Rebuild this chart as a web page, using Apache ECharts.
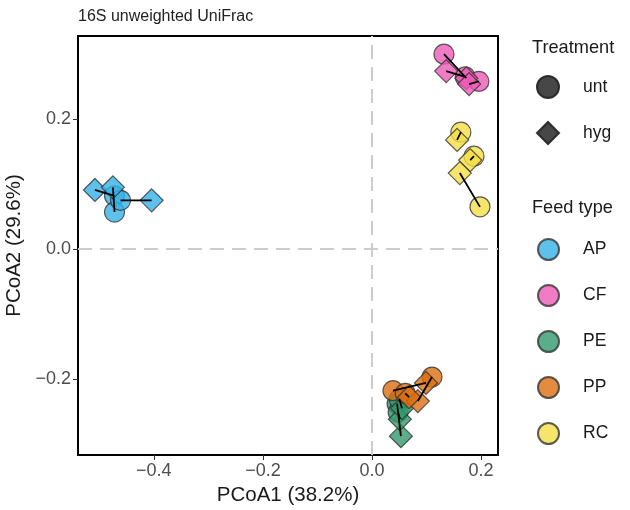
<!DOCTYPE html>
<html><head><meta charset="utf-8">
<script src="https://cdn.jsdelivr.net/npm/echarts@6/dist/echarts.min.js"></script>
<style>html,body{margin:0;padding:0;background:#fff}#c{width:630px;height:510px}</style>
</head><body><div id="c"></div>
<script>
const feedTypes = ['AP','CF','PE','PP','RC'];
const treatments = ['unt','hyg'];
const xTicks = [-0.4,-0.2,0.0,0.2];
const yTicks = [-0.2,0.0,0.2];
// paired samples: unt[i] <-> hyg[i]
const untX = {AP:[-0.472,-0.472,-0.461], CF:[0.132,0.171,0.196], PE:[0.046,0.048,0.050], PP:[0.0385,0.110,0.061], RC:[0.163,0.187,0.198]};
const untY = {AP:[0.082,0.057,0.075],    CF:[0.300,0.265,0.258], PE:[-0.238,-0.251,-0.231], PP:[-0.218,-0.197,-0.222], RC:[0.180,0.143,0.065]};
const hygX = {AP:[-0.508,-0.475,-0.404], CF:[0.173,0.136,0.178], PE:[0.053,0.051,0.055], PP:[0.099,0.084,0.068], RC:[0.156,0.180,0.161]};
const hygY = {AP:[0.091,0.095,0.075],    CF:[0.263,0.274,0.254], PE:[-0.288,-0.262,-0.245], PP:[-0.206,-0.234,-0.228], RC:[0.168,0.137,0.117]};

const colors = {AP:'#36B2E7', CF:'#EF5AB7', PE:'#329A6F', PP:'#DC6E0F', RC:'#F4DF45'};
const FONT = '"Liberation Sans", Arial, sans-serif';
const fmt = v => (Math.abs(v) < 1e-9 ? '0.0' : v.toFixed(1).replace('-', '\u2212'));

const series = [];
// dashed zero lines
series.push({
  type:'scatter', data:[], silent:true, z:1,
  markLine:{silent:true, symbol:'none', label:{show:false},
    lineStyle:{color:'#cccccc', width:2, type:[14,8]},
    data:[{xAxis:0},{yAxis:0}]}
});
feedTypes.forEach(ft => {
  const d = [];
  untX[ft].forEach((x,i) => d.push({value:[x, untY[ft][i]], symbol:'circle', symbolSize:20}));
  hygX[ft].forEach((x,i) => d.push({value:[x, hygY[ft][i]], symbol:'diamond', symbolSize:23}));
  series.push({
    name:ft, type:'scatter', z:3, data:d, symbol:'circle',
    itemStyle:{color:colors[ft], opacity:0.8, borderColor:'#333', borderWidth:1.2}
  });
});
// dummy series for treatment legend
series.push({name:'unt', type:'scatter', data:[], symbol:'circle', itemStyle:{color:'#333', opacity:0.9, borderColor:'#222', borderWidth:1}});
series.push({name:'hyg', type:'scatter', data:[], symbol:'diamond', itemStyle:{color:'#333', opacity:0.9, borderColor:'#222', borderWidth:1}});
// pair segments
const seg = [];
feedTypes.forEach(ft => {
  untX[ft].forEach((x,i) => {
    seg.push([x, untY[ft][i]]);
    seg.push([hygX[ft][i], hygY[ft][i]]);
    seg.push(['-','-']);
  });
});
series.push({type:'line', data:seg, z:5, showSymbol:false, symbol:'none', connectNulls:false, silent:true,
  lineStyle:{color:'#000', width:1.8}});

const legendText = {fontSize:17.5, color:'#1a1a1a', fontFamily:FONT, padding:[0,0,0,19]};
const option = {
  animation:false,
  textStyle:{fontFamily:FONT},
  title:[
    {text:'16S unweighted UniFrac', left:73, top:4, textStyle:{fontSize:16, fontWeight:'normal', color:'#222', fontFamily:FONT}},
    {text:'Treatment', left:527, top:34, textStyle:{fontSize:18.2, fontWeight:'normal', color:'#1a1a1a', fontFamily:FONT}},
    {text:'Feed type', left:527, top:194, textStyle:{fontSize:18.2, fontWeight:'normal', color:'#1a1a1a', fontFamily:FONT}}
  ],
  legend:[
    {data:['unt','hyg'], orient:'vertical', left:531, top:70, itemWidth:22, itemHeight:22, itemGap:22,
      textStyle:legendText, selectedMode:false},
    {data:feedTypes, orient:'vertical', left:532, top:233, itemWidth:21, itemHeight:21, itemGap:23,
      textStyle:legendText, selectedMode:false, icon:'circle'}
  ],
  grid:{left:78, right:132, top:36, bottom:55, show:true, borderColor:'#000', borderWidth:2, backgroundColor:'#fff',
    containLabel:false, outerBoundsMode:'none'},
  xAxis:{type:'value', min:-0.539, max:0.231,
    name:'PCoA1 (38.2%)', nameLocation:'middle', nameGap:27,
    nameTextStyle:{fontSize:20.5, color:'#1a1a1a', fontFamily:FONT},
    axisLine:{show:false, onZero:false}, splitLine:{show:false},
    axisTick:{show:true, length:5, lineStyle:{color:'#333', width:1}, customValues:xTicks},
    axisLabel:{fontSize:18, color:'#4d4d4d', fontFamily:FONT, margin:7, customValues:xTicks, formatter:fmt}},
  yAxis:{type:'value', min:-0.317, max:0.328,
    name:'PCoA2 (29.6%)', nameLocation:'middle', nameGap:52, nameRotate:90,
    nameTextStyle:{fontSize:20.5, color:'#1a1a1a', fontFamily:FONT},
    axisLine:{show:false, onZero:false}, splitLine:{show:false},
    axisTick:{show:true, length:5, lineStyle:{color:'#333', width:1}, customValues:yTicks},
    axisLabel:{fontSize:18, color:'#4d4d4d', fontFamily:FONT, margin:7, customValues:yTicks, formatter:fmt}},
  series:series
};
const chart = echarts.init(document.getElementById('c'), null, {renderer:'canvas'});
chart.setOption(option);
</script></body></html>
